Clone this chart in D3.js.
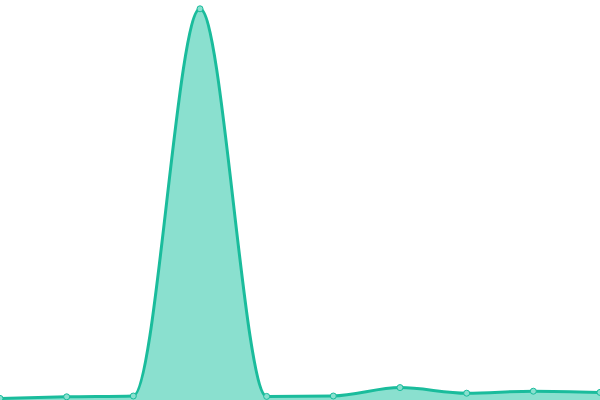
<!DOCTYPE html>
<html>
<head>
<meta charset="utf-8">
<script src="https://cdn.jsdelivr.net/npm/d3@7"></script>
<style>
  html, body { margin: 0; padding: 0; background: #fff; }
  svg { display: block; }
</style>
</head>
<body>
<svg id="chart" width="600" height="400"></svg>
<script>
// data
const categories = ["A", "B", "C", "D", "E", "F", "G", "H", "I", "J"];
const values = [4, 8, 10, 978, 9, 10, 31, 17, 22, 19];

const width = 600;
const height = 400;

const svg = d3.select("#chart");

// Define scales
const xScale = d3.scalePoint()
  .domain(categories)
  .range([0, width]);

const yScale = d3.scaleLinear()
  .domain([0, 1000])
  .range([height, 0]);

const curve = d3.curveMonotoneX;

const area = d3.area()
  .x((d, i) => xScale(categories[i]))
  .y0(height)
  .y1(d => yScale(d))
  .curve(curve);

const line = d3.line()
  .x((d, i) => xScale(categories[i]))
  .y(d => yScale(d))
  .curve(curve);

// Fill under the line
svg.append("path")
  .datum(values)
  .attr("d", area)
  .attr("fill", "#8ae0cf");

// The line
svg.append("path")
  .datum(values)
  .attr("d", line)
  .attr("fill", "none")
  .attr("stroke", "#1abc9c")
  .attr("stroke-width", 3);

// Point markers
svg.selectAll("circle")
  .data(values)
  .enter().append("circle")
  .attr("cx", (d, i) => xScale(categories[i]))
  .attr("cy", d => yScale(d))
  .attr("r", 3)
  .attr("fill", "#8ae0cf")
  .attr("stroke", "#1abc9c")
  .attr("stroke-width", 1);
</script>
</body>
</html>
